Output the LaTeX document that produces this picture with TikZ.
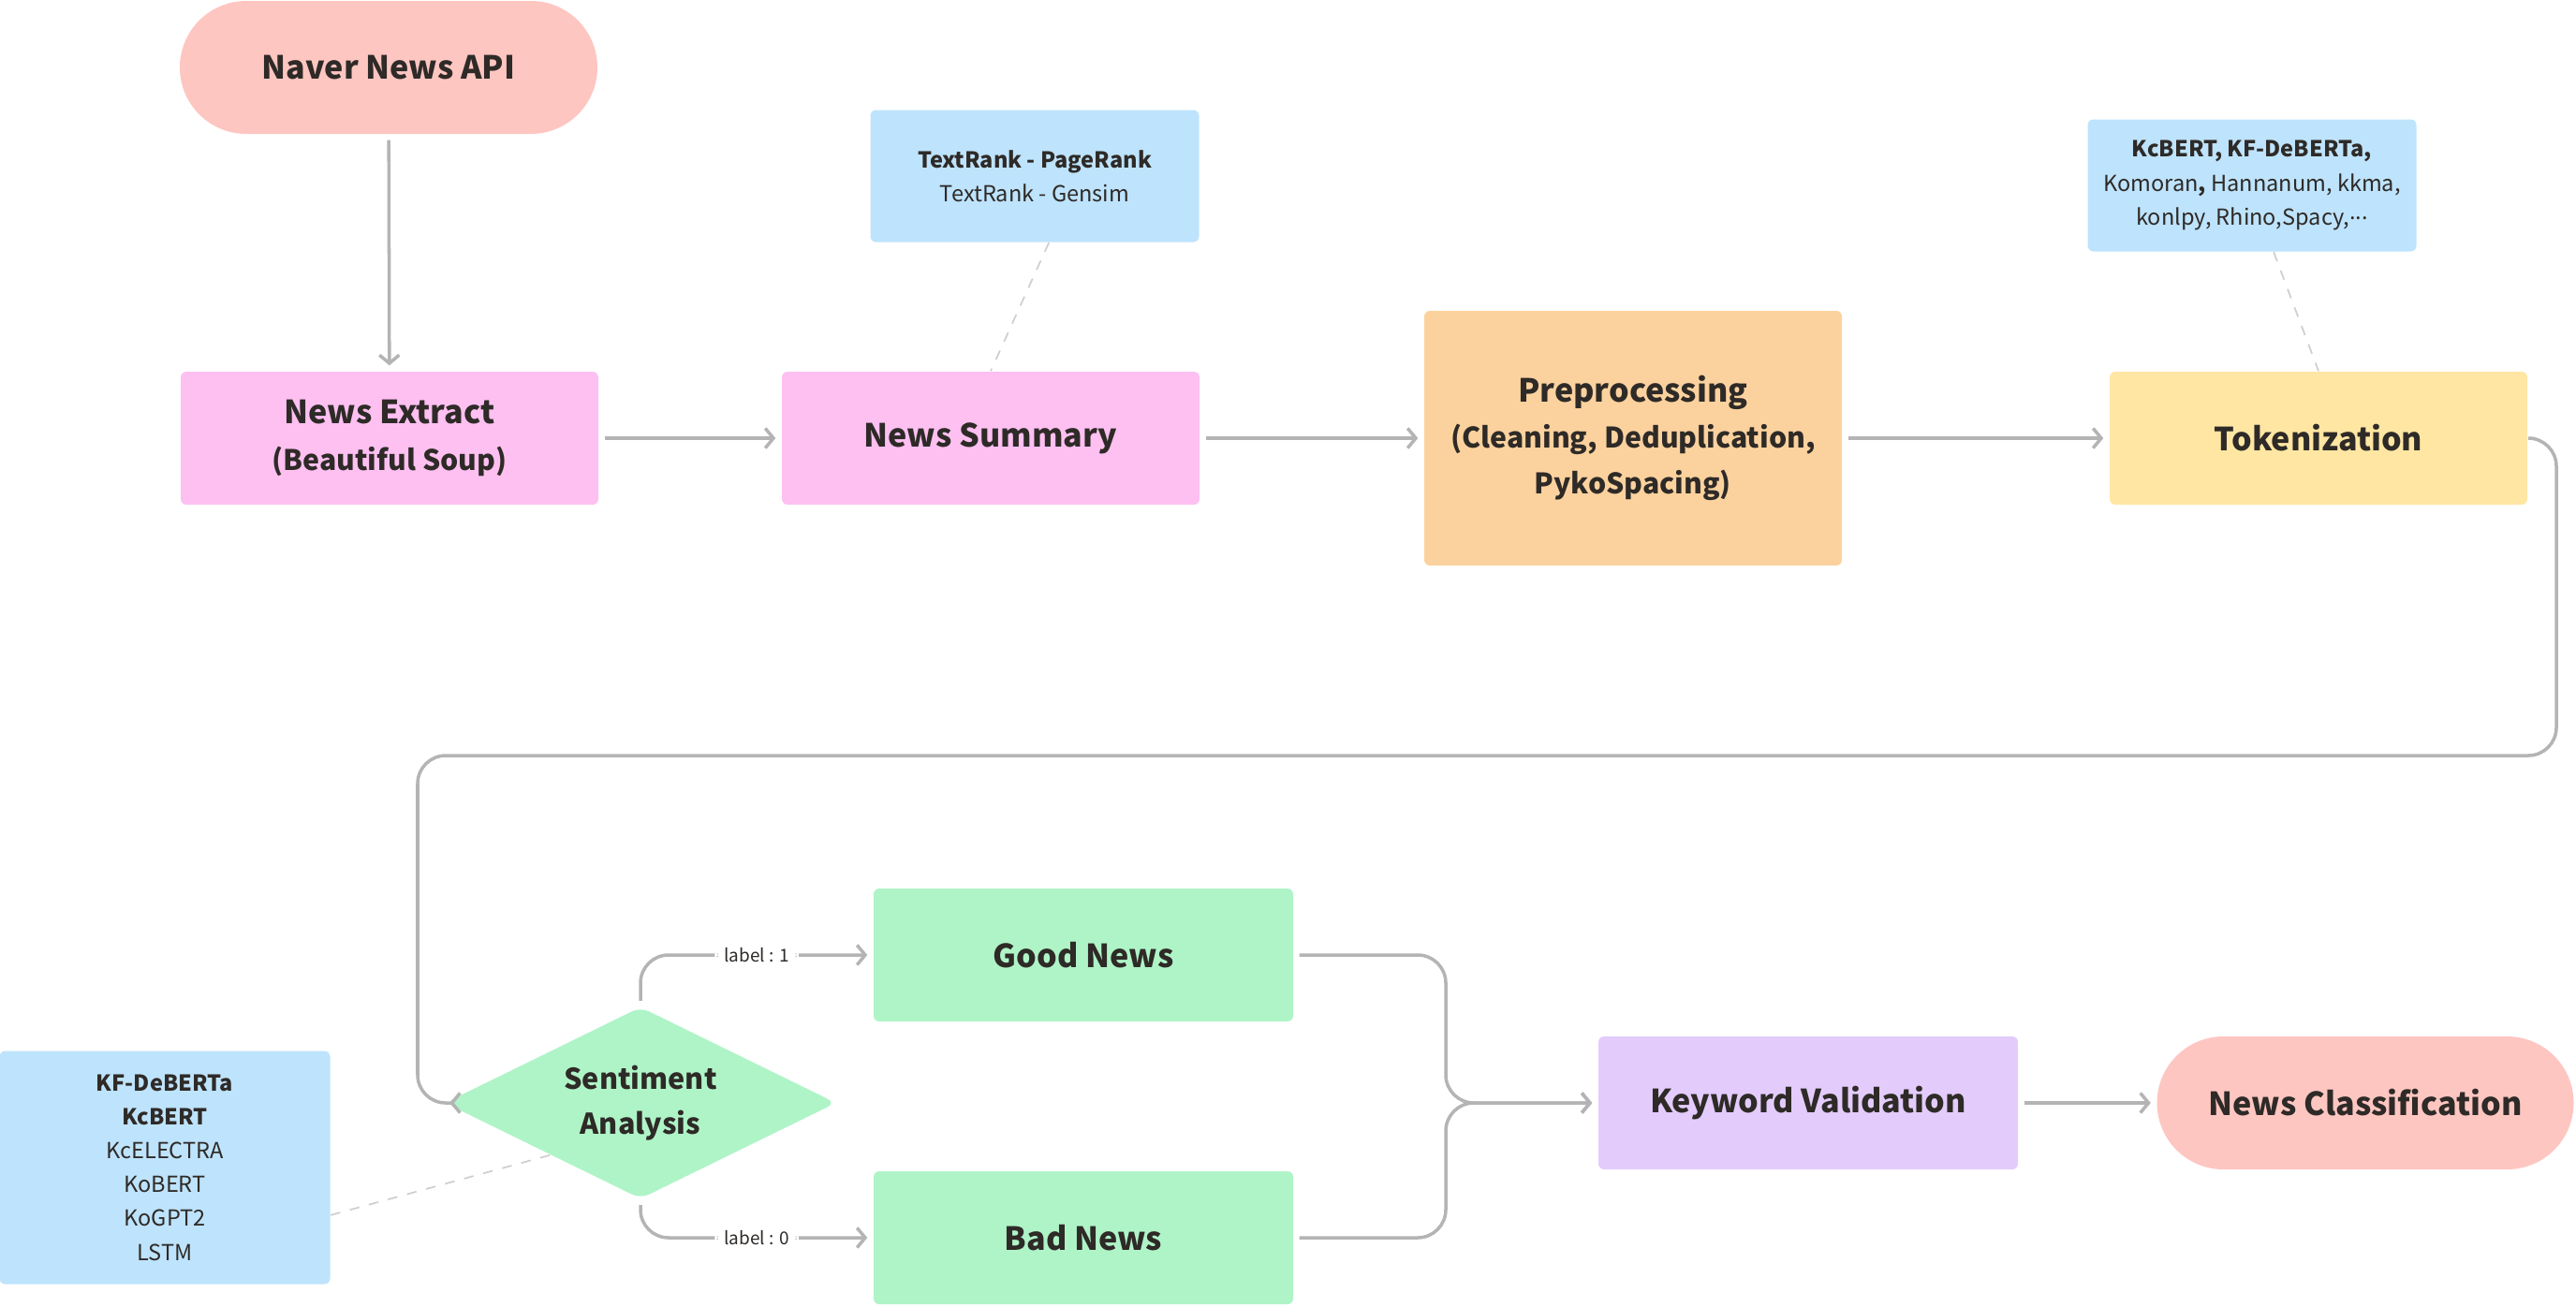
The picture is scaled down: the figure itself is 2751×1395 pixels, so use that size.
\documentclass[tikz,border=0pt]{standalone}
\usepackage{fontspec}
\setmainfont{Noto Sans CJK KR}
\usepackage{tikz}
\usetikzlibrary{shapes.geometric, arrows.meta}

\definecolor{pillpink}{HTML}{FEC6C1}
\definecolor{boxpink}{HTML}{FDC0F1}
\definecolor{boxorange}{HTML}{FBD29E}
\definecolor{boxyellow}{HTML}{FFE6A3}
\definecolor{noteblue}{HTML}{BEE3FC}
\definecolor{boxgreen}{HTML}{AFF4C7}
\definecolor{boxpurple}{HTML}{E3CCFC}
\definecolor{inkdark}{HTML}{2E2A27}
\definecolor{linegray}{HTML}{B4B4B4}
\definecolor{dashgray}{HTML}{CFCFCF}

\newcommand{\subline}[1]{{\fontsize{8.6}{14}\selectfont #1}}

\begin{document}
\begin{tikzpicture}
            [
                x=0.1mm, y=-0.1mm,
                box/.style={rectangle, rounded corners=0.6mm, minimum width=44.6mm, minimum height=14.2mm, inner sep=0, align=center, text=inkdark, font=\fontsize{9.7}{14}\selectfont\bfseries},
                pill/.style={box, fill=pillpink, rounded corners=7.1mm},
                decision/.style={diamond, aspect=2.04, fill=boxgreen, rounded corners=1mm, minimum width=41.8mm, minimum height=20.5mm, inner sep=0, align=center, text=inkdark, font=\fontsize{8.7}{13.5}\selectfont\bfseries},
                note/.style={rectangle, rounded corners=0.6mm, fill=noteblue, minimum width=35.1mm, minimum height=14.1mm, inner sep=0, align=center, text=inkdark, font=\fontsize{6.7}{10.3}\selectfont},
                flow/.style={draw=linegray, line width=1pt, rounded corners=3mm, shorten >=0.6mm, shorten <=0.6mm, -{Straight Barb[length=2.5pt, width=6pt]}},
                link/.style={draw=dashgray, line width=0.5pt, dash pattern=on 3pt off 3pt},
                lbl/.style={fill=white, text=inkdark, inner sep=1mm, font=\fontsize{5.4}{7}\selectfont}
            ]
            \useasboundingbox (0,0) rectangle (2751,1395);

            \node[pill] (api) at (415,72) {Naver News API};
            \node[box, fill=boxpink] (extract) at (416,468) {News Extract\\\subline{(Beautiful Soup)}};
            \node[box, fill=boxpink] (summary) at (1058,468) {News Summary};
            \node[box, fill=boxorange, minimum height=27.2mm] (prep) at (1744,468) {Preprocessing\\\subline{(Cleaning, Deduplication,}\\\subline{PykoSpacing)}};
            \node[box, fill=boxyellow] (token) at (2476,468) {Tokenization};

            \node[note] (rankNote) at (1105,188) {\textbf{TextRank - PageRank}\\TextRank - Gensim};
            \node[note] (tokenNote) at (2405,198) {
                \textbf{KcBERT, KF-DeBERTa,}\\
                Komoran\textbf{,} Hannanum, kkma,\\
                konlpy, Rhino,Spacy,\raisebox{0.24em}{...}
            };

            \node[decision] (sa) at (684,1178) {Sentiment\\Analysis};
            \node[note, minimum width=35.3mm, minimum height=24.9mm] (modelNote) at (176,1247) {
                \textbf{KF-DeBERTa}\\
                \textbf{KcBERT}\\
                KcELECTRA\\
                KoBERT\\
                KoGPT2\\
                LSTM
            };
            \node[box, fill=boxgreen, minimum width=44.8mm] (good) at (1157,1020) {Good News};
            \node[box, fill=boxgreen, minimum width=44.8mm] (bad) at (1157,1322) {Bad News};
            \node[box, fill=boxpurple, minimum width=44.8mm] (kv) at (1931,1178) {Keyword Validation};
            \node[pill, minimum width=44.5mm] (cls) at (2526,1178) {News Classification};

            \coordinate (loopR) at (2730,807);
            \coordinate (loopL) at (446,807);
            \coordinate (merge) at (1544,1178);

            \draw[flow] (api) -- (extract);
            \draw[flow] (extract) -- (summary);
            \draw[flow] (summary) -- (prep);
            \draw[flow] (prep) -- (token);
            \draw[flow] (token.east) -| (loopR) -- (loopL) |- (sa.west);
            \draw[flow] (sa.north) |- node[lbl, pos=0.75] {label : 1} (good.west);
            \draw[flow] (sa.south) |- node[lbl, pos=0.75] {label : 0} (bad.west);
            \draw[flow] (good.east) -| (merge) -- (kv.west);
            \draw[flow] (bad.east) -| (merge) -- (kv.west);
            \draw[flow] (kv) -- (cls);

            \draw[link] (rankNote.-78) -- (summary.north);
            \draw[link] (tokenNote.-72) -- (token.north);
            \draw[link] (modelNote.-16) -- (sa.210);
\end{tikzpicture}
\end{document}
